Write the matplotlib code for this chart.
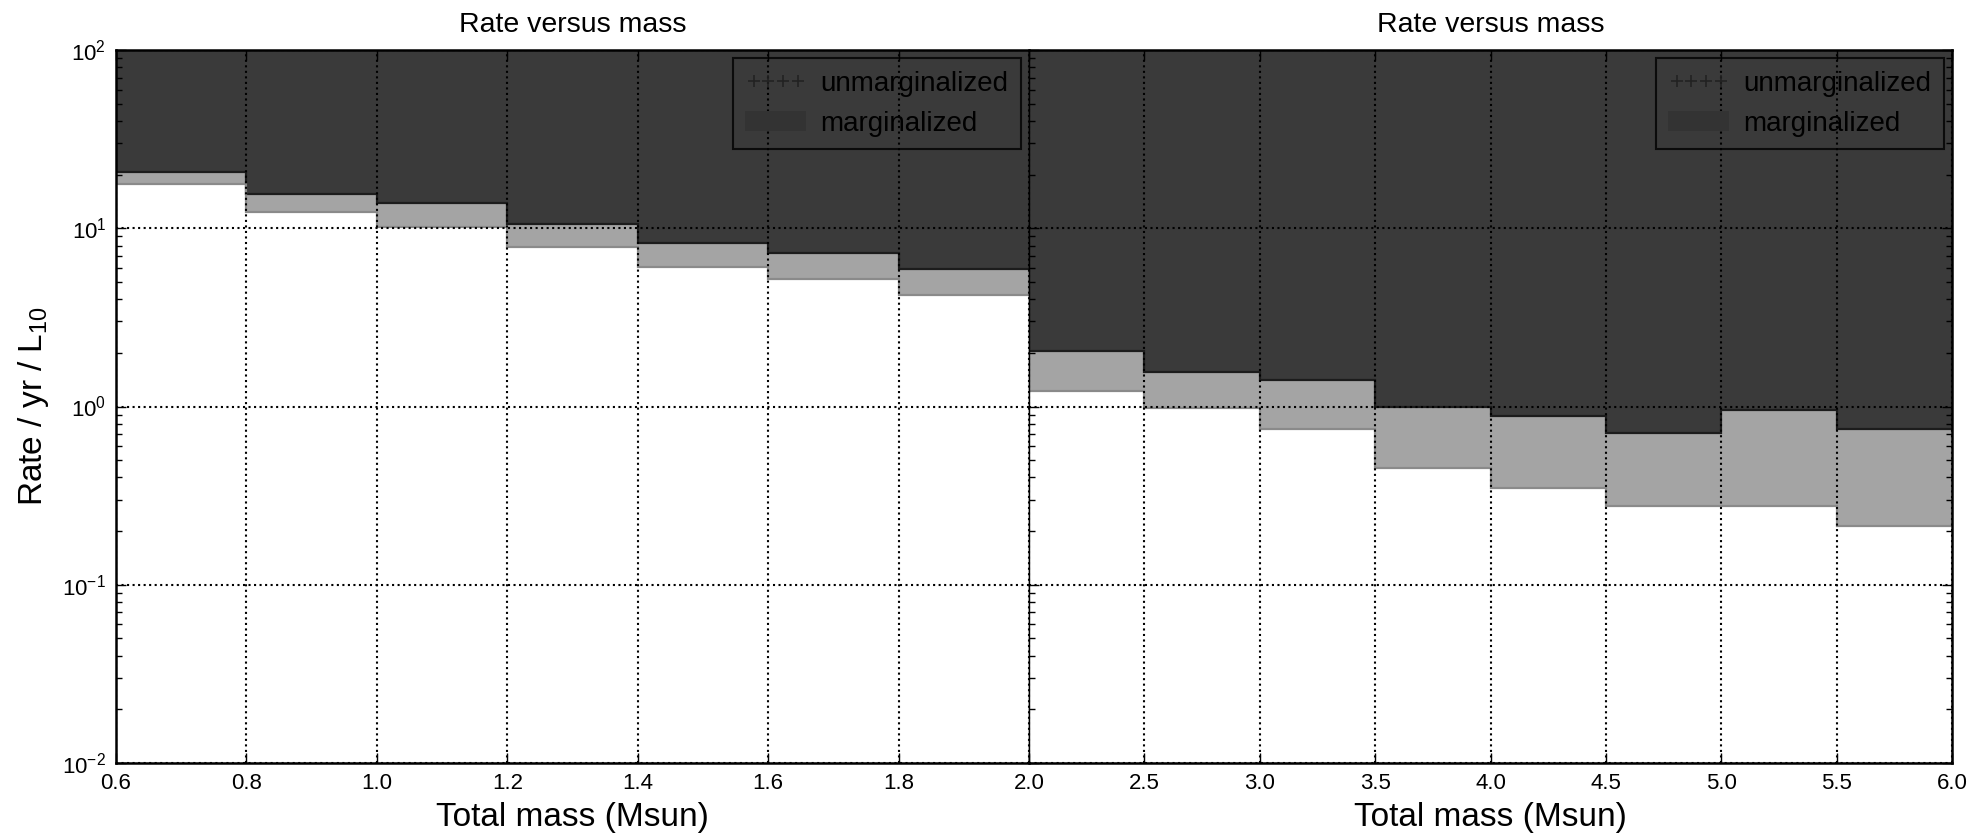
import numpy as np
import matplotlib
matplotlib.use('Agg')
import matplotlib.pyplot as plt
from matplotlib.lines import Line2D
from matplotlib.patches import Patch

plt.rcParams['font.family'] = ['Liberation Sans', 'DejaVu Sans']
plt.rcParams['mathtext.fontset'] = 'custom'
plt.rcParams['mathtext.rm'] = 'Liberation Sans'
plt.rcParams['mathtext.it'] = 'Liberation Sans:italic'

# bin edges (total mass, Msun)
edges_low = [0.6, 0.8, 1.0, 1.2, 1.4, 1.6, 1.8, 2.0]
edges_high = [2.0, 2.5, 3.0, 3.5, 4.0, 4.5, 5.0, 5.5, 6.0]

# rate upper limits / yr / L10
marg_low = [20.6, 15.6, 13.8, 10.5, 8.3, 7.3, 5.9]
unmarg_low = [17.8, 12.4, 10.1, 7.8, 6.1, 5.2, 4.2]
marg_high = [2.04, 1.57, 1.40, 0.995, 0.89, 0.71, 0.95, 0.745]
unmarg_high = [1.22, 0.98, 0.75, 0.45, 0.348, 0.277, 0.277, 0.214]

xticks_low = [0.6, 0.8, 1.0, 1.2, 1.4, 1.6, 1.8, 2.0]
xtick_labels_low = ['0.6', '0.8', '1.0', '1.2', '1.4', '1.6', '1.8', '']
xticks_high = [2.0, 2.5, 3.0, 3.5, 4.0, 4.5, 5.0, 5.5, 6.0]

dark = '#3a3a3a'
grey = '#a4a4a4'
ymin, ymax = 1e-2, 1e2

W, H = 1975, 835
fig = plt.figure(figsize=(W / 100, H / 100), dpi=100)
ax1 = fig.add_axes([116 / W, 1 - 763 / H, 913 / W, 713 / H])
ax2 = fig.add_axes([1029 / W, 1 - 763 / H, 923 / W, 713 / H], sharey=ax1)


def draw_panel(ax, edges, marg, unmarg):
    edges = np.array(edges)
    marg = np.array(marg)
    unmarg = np.array(unmarg)
    ceiling = np.full(len(marg), 1e3)
    ax.stairs(ceiling, edges, baseline=marg, fill=True, color=dark, lw=0, zorder=1)
    ax.stairs(marg, edges, baseline=unmarg, fill=True, color=grey, lw=0, zorder=1)
    ax.stairs(marg, edges, baseline=None, color='#1c1c1c', lw=1.6, zorder=1.5)
    ax.stairs(unmarg, edges, baseline=None, color='#8a8a8a', lw=1.6, zorder=1.5)

    ax.set_yscale('log')
    ax.set_ylim(ymin, ymax)
    ax.set_xlim(edges[0], edges[-1])
    ax.set_axisbelow(False)
    ax.grid(True, which='major', color='k', linestyle=':', linewidth=1.5)
    ax.tick_params(which='both', direction='in', top=True, right=True, labelsize=16, pad=7)
    ax.tick_params(which='major', length=7, width=1)
    ax.tick_params(which='minor', length=4, width=1)
    ax.set_title('Rate versus mass', fontsize=20.5, pad=13)
    ax.set_xlabel('Total mass (Msun)', fontsize=24, labelpad=6)
    for s in ax.spines.values():
        s.set_linewidth(1.8)

    handles = [Line2D([], [], marker='+', linestyle='none', color='#222222',
                      markersize=9, markeredgewidth=1.2),
               Patch(facecolor='#333333', edgecolor='none')]
    leg = ax.legend(handles, ['unmarginalized', 'marginalized'], loc='upper right',
                    fontsize=20, numpoints=4, handlelength=2.2, fancybox=False,
                    borderaxespad=0.3, borderpad=0.45, handletextpad=0.5,
                    labelspacing=0.5)
    leg.get_frame().set_facecolor('none')
    leg.get_frame().set_edgecolor('k')
    leg.get_frame().set_linewidth(1.5)


draw_panel(ax1, edges_low, marg_low, unmarg_low)
draw_panel(ax2, edges_high, marg_high, unmarg_high)

ax1.set_xticks(xticks_low)
ax1.set_xticklabels(xtick_labels_low)
ax2.set_xticks(xticks_high)
ax2.set_xticklabels(['%.1f' % t for t in xticks_high])
ax1.set_ylabel('Rate / yr / L$_{10}$', fontsize=24, labelpad=8)
ax1.tick_params(which='both', right=False)
ax2.tick_params(labelleft=False)
ax1.spines['right'].set_linewidth(1.0)
ax2.spines['left'].set_linewidth(1.0)

fig.savefig('out.png', dpi=100)
